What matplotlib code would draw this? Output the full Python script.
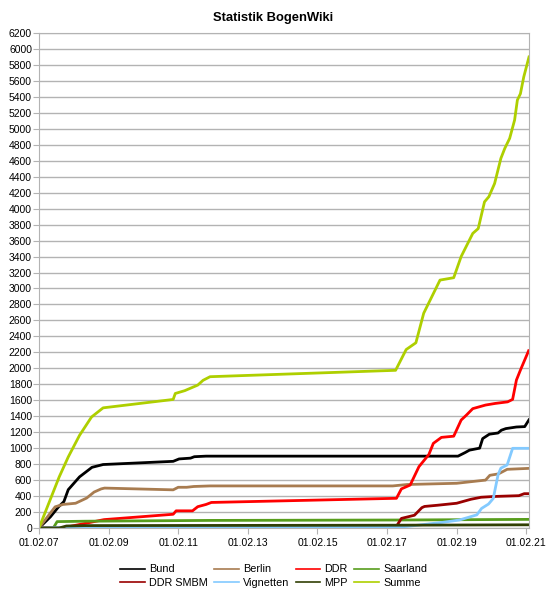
import pandas as pd
import matplotlib
matplotlib.use("Agg")
import matplotlib.pyplot as plt
import matplotlib.dates as mdates

plt.rcParams['font.family'] = ['Liberation Sans', 'DejaVu Sans']

# values
bund_dates = ['2007-02-01', '2007-06-01', '2007-08-25', '2007-10-20', '2007-12-05', '2008-04-01',
              '2008-08-10', '2008-12-05', '2010-12-10', '2011-02-10', '2011-06-10', '2011-07-20',
              '2011-11-20', '2019-02-15', '2019-05-01', '2019-06-15', '2019-09-30', '2019-11-01',
              '2020-01-10', '2020-04-10', '2020-05-15', '2020-07-01', '2020-10-20', '2021-01-15',
              '2021-03-01']
bund_vals = [0, 140, 265, 330, 480, 640, 760, 795, 835, 865, 875, 893, 900, 900, 945, 975, 1000,
             1120, 1175, 1190, 1225, 1245, 1265, 1270, 1355]

berlin_dates = ['2007-02-01', '2007-07-20', '2007-10-10', '2008-02-20', '2008-06-15', '2008-09-01',
                '2008-11-15', '2008-12-20', '2010-12-10', '2011-02-01', '2011-05-01', '2011-07-15',
                '2012-01-01', '2017-04-01', '2017-09-01', '2019-02-01', '2019-07-01', '2019-12-01',
                '2020-01-15', '2020-04-15', '2020-07-15', '2021-03-01']
berlin_vals = [0, 265, 295, 310, 375, 450, 490, 500, 478, 510, 510, 520, 527, 527, 545, 560, 580,
               600, 660, 678, 735, 747]

ddr_dates = ['2007-02-01', '2007-10-01', '2008-12-15', '2010-12-10', '2011-01-10', '2011-07-01',
             '2011-08-25', '2011-11-20', '2012-01-15', '2017-05-10', '2017-07-01', '2017-10-01',
             '2018-01-01', '2018-04-15', '2018-06-01', '2018-08-25', '2019-01-01', '2019-03-20',
             '2019-05-15', '2019-07-20', '2019-12-01', '2020-03-10', '2020-07-20', '2020-09-10',
             '2020-10-20', '2020-12-01', '2021-02-25']
ddr_vals = [0, 0, 105, 172, 215, 215, 267, 295, 320, 372, 490, 538, 768, 920, 1060, 1135, 1150,
            1352, 1415, 1495, 1540, 1560, 1580, 1611, 1853, 1978, 2220]

saar_dates = ['2007-02-01', '2007-07-01', '2007-08-10', '2008-06-01', '2012-01-01', '2017-05-01',
              '2021-03-01']
saar_vals = [0, 0, 80, 85, 95, 100, 108]

smbm_dates = ['2007-02-01', '2011-01-01', '2017-04-20', '2017-05-20', '2017-07-01', '2017-11-15',
              '2018-02-01', '2018-03-01', '2018-07-15', '2019-02-01', '2019-07-01', '2019-10-15',
              '2020-03-01', '2020-11-15', '2021-01-10', '2021-03-01']
smbm_vals = [0, 0, 5, 40, 120, 160, 255, 270, 285, 310, 360, 385, 395, 405, 430, 430]

vign_dates = ['2007-02-01', '2007-09-01', '2011-08-01', '2017-05-01', '2017-09-01', '2018-09-01',
              '2019-03-01', '2019-09-01', '2019-10-20', '2020-01-01', '2020-02-20', '2020-04-10',
              '2020-05-10', '2020-07-15', '2020-09-10', '2021-03-01']
vign_vals = [0, 5, 10, 10, 20, 70, 100, 165, 245, 300, 370, 665, 750, 790, 998, 998]

mpp_dates = ['2007-02-01', '2007-09-01', '2007-11-15', '2008-06-01', '2017-05-01', '2021-03-01']
mpp_vals = [0, 0, 25, 30, 35, 40]

summe_dates = ['2007-02-01', '2007-09-01', '2007-12-05', '2008-04-01', '2008-08-05', '2008-12-05',
               '2010-12-10', '2011-01-01', '2011-04-10', '2011-08-25', '2011-10-20', '2012-01-01',
               '2017-05-01', '2017-08-20', '2017-11-30', '2018-02-20', '2018-08-10', '2019-01-01',
               '2019-03-20', '2019-07-20', '2019-09-15', '2019-11-20', '2020-01-05', '2020-03-05',
               '2020-05-10', '2020-06-20', '2020-08-10', '2020-10-01', '2020-10-30', '2020-12-01',
               '2021-01-05', '2021-03-01']
summe_vals = [0, 640, 890, 1160, 1390, 1505, 1610, 1685, 1720, 1790, 1850, 1895, 1975, 2235, 2320,
              2690, 3105, 3135, 3400, 3690, 3750, 4085, 4150, 4315, 4630, 4755, 4880, 5110, 5360,
              5440, 5650, 5900]

series = [
    ('Bund', bund_dates, bund_vals, '#000000'),
    ('Berlin', berlin_dates, berlin_vals, '#a87c50'),
    ('DDR', ddr_dates, ddr_vals, '#ff0000'),
    ('Saarland', saar_dates, saar_vals, '#579d1c'),
    ('DDR SMBM', smbm_dates, smbm_vals, '#990000'),
    ('Vignetten', vign_dates, vign_vals, '#83caff'),
    ('MPP', mpp_dates, mpp_vals, '#314004'),
    ('Summe', summe_dates, summe_vals, '#aecf00'),
]

fig = plt.figure(figsize=(5.47, 5.99), dpi=100)
ax = fig.add_axes([39 / 547, 1 - 528 / 599, 490 / 547, 495 / 599])

lines = {}
for name, d, v, c in series:
    ln, = ax.plot(pd.to_datetime(d), v, color=c, lw=2, label=name)
    lines[name] = ln

ax.set_ylim(0, 6200)
ax.set_yticks(range(0, 6201, 200))
ax.set_xlim(pd.Timestamp('2007-02-01'), pd.Timestamp('2021-03-01'))
ax.set_xticks(pd.to_datetime(['2007-02-01', '2009-02-01', '2011-02-01', '2013-02-01',
                              '2015-02-01', '2017-02-01', '2019-02-01', '2021-02-01']))
ax.xaxis.set_major_formatter(mdates.DateFormatter('%d.%m.%y'))
ax.grid(axis='y', color='#b3b3b3', lw=1)
ax.set_axisbelow(True)
for s in ax.spines.values():
    s.set_color('#b3b3b3')
ax.tick_params(colors='#b3b3b3', labelcolor='black', labelsize=7.5, length=4)
ax.tick_params(axis='y', pad=1)

fig.text(0.5, 1 - 18 / 599, 'Statistik BogenWiki', fontsize=9.4, fontweight='bold',
         ha='center', va='center')

order = ['Bund', 'DDR SMBM', 'Berlin', 'Vignetten', 'DDR', 'MPP', 'Saarland', 'Summe']
leg_lines = []
for n in order:
    h, = ax.plot([], [], color=lines[n].get_color(), lw=1.2)
    leg_lines.append(h)
fig.legend(leg_lines, order, ncol=4, loc='center', bbox_to_anchor=(0.5, 1 - 576 / 599),
           frameon=False, fontsize=7.8, handlelength=2.3, handletextpad=0.35, columnspacing=0.6,
           labelspacing=0.3)

plt.savefig('out.png', dpi=100)
